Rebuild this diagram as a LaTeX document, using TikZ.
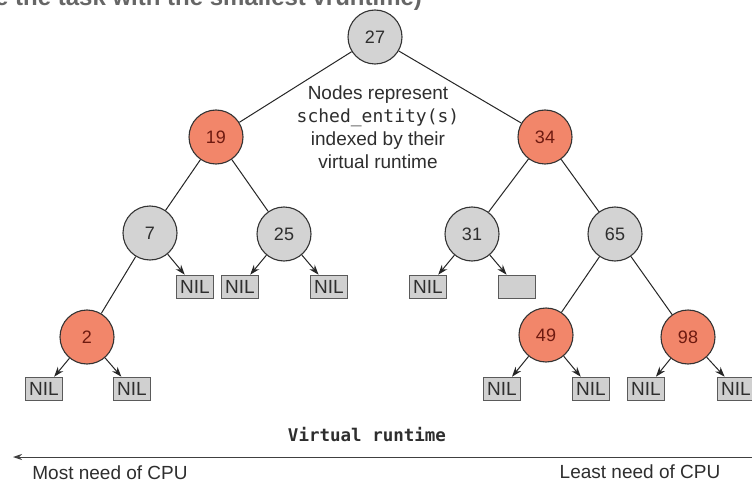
\documentclass[tikz,border=0pt]{standalone}
\usepackage{fontspec}
\setmainfont{Liberation Sans}
\setmonofont{DejaVu Sans Mono}
\usetikzlibrary{arrows.meta}
\definecolor{nodegray}{HTML}{D3D3D3}
\definecolor{nodered}{HTML}{F2866A}
\definecolor{redtext}{HTML}{6E1A10}
\definecolor{nilfill}{HTML}{D0D0D0}
\definecolor{nildraw}{HTML}{5A5A5A}
\definecolor{txt}{HTML}{2E2E2E}
\begin{document}
\begin{tikzpicture}[x=1pt,y=-1pt,
  gnode/.style={circle,minimum size=54pt,inner sep=0pt,fill=nodegray,draw=black!80,line width=1.1pt,
    font=\fontsize{18}{18}\selectfont,text=txt},
  rnode/.style={gnode,fill=nodered,text=redtext},
  nilbox/.style={rectangle,minimum width=37pt,minimum height=23pt,inner sep=0pt,fill=nilfill,
    draw=nildraw,line width=1.6pt,font=\fontsize{19}{19}\selectfont,text=txt},
  edge/.style={draw=black!85,line width=1pt},
  nilarrow/.style={edge,-{Stealth[length=10pt,width=7pt]}},
  label/.style={font=\fontsize{19}{23}\selectfont,text=txt,align=center}
]
\useasboundingbox (0,0) rectangle (752,484);
\fill[white] (0,0) rectangle (752,484);

% cut-off title
\node[anchor=base west,inner sep=0pt,font=\bfseries\fontsize{24}{24}\selectfont,text=black!60] (title) at (-5,6) {e the task with the smallest vruntime)};

% tree nodes
\node[gnode] (n27) at (375,37) {27};
\node[rnode] (n19) at (216,137) {19};
\node[rnode] (n34) at (545,137) {34};
\node[gnode] (n7)  at (150,233) {7};
\node[gnode] (n25) at (284,234) {25};
\node[gnode] (n31) at (472,234) {31};
\node[gnode] (n65) at (615,234) {65};
\node[rnode] (n2)  at (87,337) {2};
\node[rnode] (n49) at (546,335) {49};
\node[rnode] (n98) at (688,337) {98};

% NIL leaves
\node[nilbox] (l7r)  at (195,287) {NIL};
\node[nilbox] (l25l) at (240,287) {NIL};
\node[nilbox] (l25r) at (329,287) {NIL};
\node[nilbox] (l31l) at (428,287) {NIL};
\node[nilbox] (l31r) at (517,287) {};
\node[nilbox] (l2l)  at (44,389) {NIL};
\node[nilbox] (l2r)  at (132,389) {NIL};
\node[nilbox] (l49l) at (502,389) {NIL};
\node[nilbox] (l49r) at (591,389) {NIL};
\node[nilbox] (l98l) at (646,389) {NIL};
\node[nilbox] (l98r) at (736,389) {NIL};

% tree edges
\draw[edge] (n27) -- (n19);
\draw[edge] (n27) -- (n34);
\draw[edge] (n19) -- (n7);
\draw[edge] (n19) -- (n25);
\draw[edge] (n34) -- (n31);
\draw[edge] (n34) -- (n65);
\draw[edge] (n7) -- (n2);
\draw[edge] (n65) -- (n49);
\draw[edge] (n65) -- (n98);

% arrows to leaves
\draw[nilarrow] (n7) -- (l7r);
\draw[nilarrow] (n25) -- (l25l);
\draw[nilarrow] (n25) -- (l25r);
\draw[nilarrow] (n31) -- (l31l);
\draw[nilarrow] (n31) -- (l31r);
\draw[nilarrow] (n2) -- (l2l);
\draw[nilarrow] (n2) -- (l2r);
\draw[nilarrow] (n49) -- (l49l);
\draw[nilarrow] (n49) -- (l49r);
\draw[nilarrow] (n98) -- (l98l);
\draw[nilarrow] (n98) -- (l98r);

% annotation
\node[label] (note) at (378,127) {Nodes represent\\{\ttfamily\fontsize{18}{23}\selectfont sched\_entity(s)}\\indexed by their\\virtual runtime};

% axis
\node[font=\ttfamily\bfseries\fontsize{17.5}{17.5}\selectfont,text=txt] (vr) at (367,435) {Virtual runtime};
\coordinate (axR) at (752,457);
\coordinate (axL) at (13,457);
\draw[draw=black!75,line width=1pt,-{Stealth[length=9pt,width=6pt]}] (axR) -- (axL);
\node[label] (most) at (110,473) {Most need of CPU};
\node[label] (least) at (640,472) {Least need of CPU};
\end{tikzpicture}
\end{document}
